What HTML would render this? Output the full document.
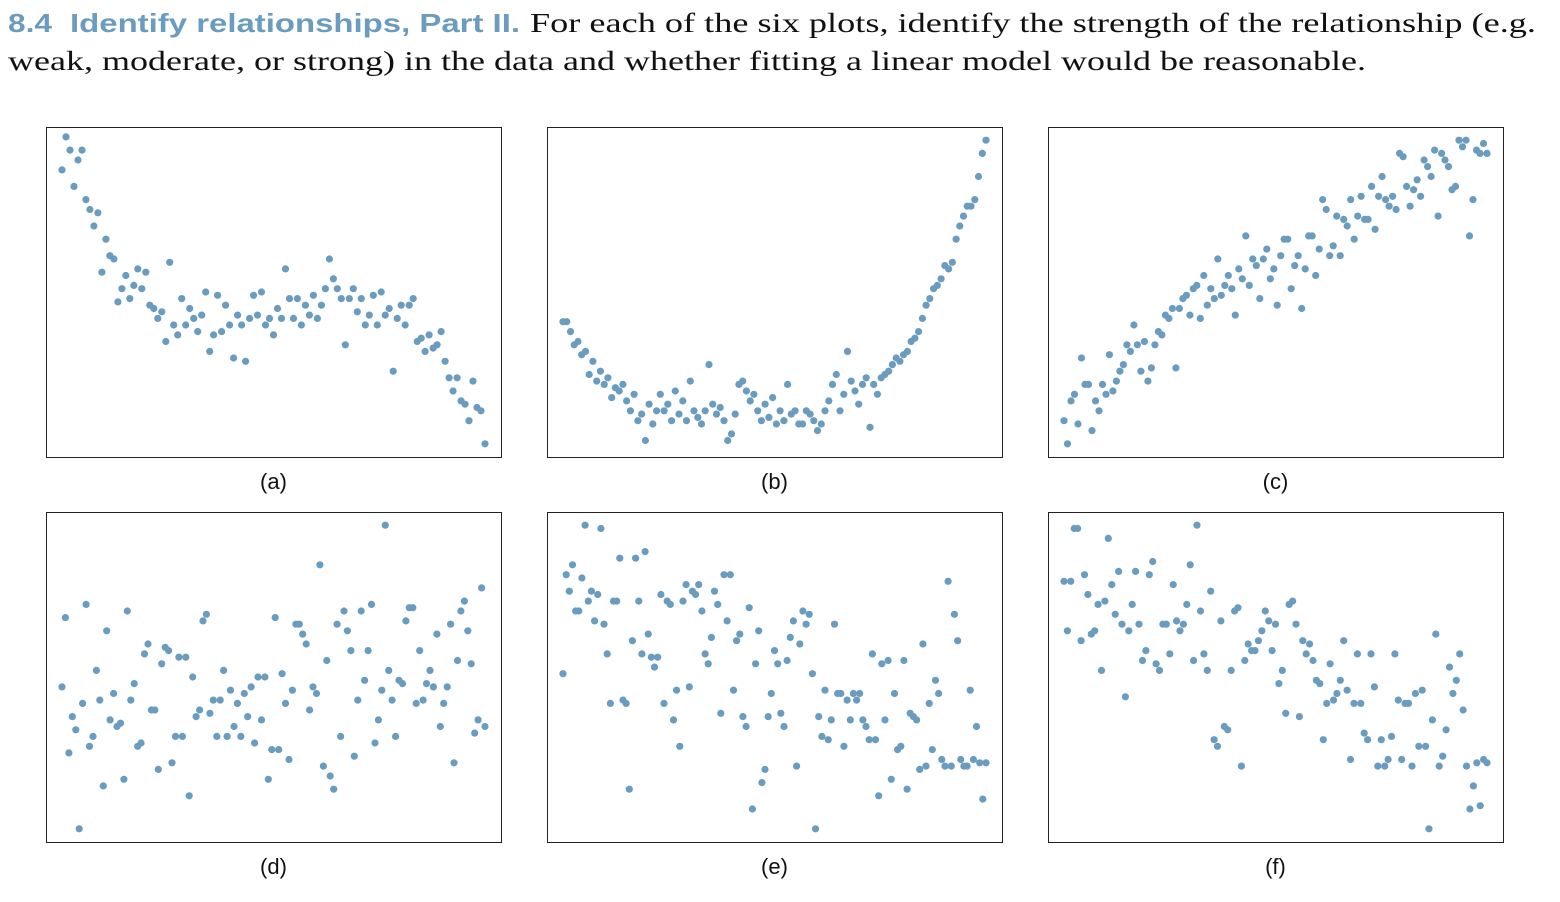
<!DOCTYPE html>
<html><head><meta charset="utf-8"><style>
body{margin:0;background:#fff;width:1560px;height:902px;overflow:hidden}
svg{display:block}
.hd{font-family:"Liberation Sans",sans-serif;font-weight:bold;fill:#6a9cc0;font-size:26px}
.tx{font-family:"Liberation Serif",serif;font-size:27px;fill:#111}
.lb{font-family:"Liberation Sans",sans-serif;font-size:22px;fill:#111}
</style></head><body>
<svg id="root" width="1560" height="902">
<text class="hd" x="8" y="32" textLength="44" lengthAdjust="spacingAndGlyphs">8.4</text>
<text class="hd" x="70" y="32" textLength="450" lengthAdjust="spacingAndGlyphs">Identify relationships, Part II.</text>
<text class="tx" x="530" y="32" textLength="1006" lengthAdjust="spacingAndGlyphs">For each of the six plots, identify the strength of the relationship (e.g.</text>
<text class="tx" x="8" y="70" textLength="1358" lengthAdjust="spacingAndGlyphs">weak, moderate, or strong) in the data and whether fitting a linear model would be reasonable.</text>
</svg>
<script>
const panelLabels=["(a)","(b)","(c)","(d)","(e)","(f)"];
const seriesA=[87,97,93,82,90,93,78,75,70,74,56,66,61,60,47,51,55,48,52,57,51,56,46,45,42,44,35,59,40,37,48,40,45,42,38,43,50,32,37,49,38,46,40,30,43,40,29,42,49,43,50,40,42,37,45,42,57,48,42,48,40,46,43,49,42,46,51,60,54,51,48,34,48,51,44,48,40,43,49,40,50,43,45,26,42,46,40,46,48,35,36,32,37,33,34,38,29,24,20,24,17,16,11,23,15,14,4];
const seriesB=[41,41,38,34,35,31,32,25,29,23,26,22,24,18,21,20,22,17,14,19,11,13,5,16,10,14,19,14,16,11,20,13,17,11,23,14,12,10,14,28,16,13,15,11,5,7,13,22,23,20,17,19,14,11,16,12,18,10,14,11,22,13,14,10,10,14,13,11,8,10,14,17,22,25,14,19,32,23,20,16,22,24,9,22,19,24,25,26,28,30,29,31,32,35,36,38,42,46,48,51,52,54,58,57,59,66,70,73,76,76,78,85,92,96];
const seriesC=[11,4,17,19,10,30,22,22,8,17,14,22,19,31,20,23,26,28,34,32,40,34,26,35,23,27,34,38,37,43,42,45,27,45,48,49,43,51,52,42,55,46,51,48,60,49,52,55,51,43,57,54,67,52,60,58,48,60,63,54,57,46,61,66,66,51,58,61,45,57,67,67,55,63,78,75,61,64,73,61,72,70,78,66,73,79,72,72,82,69,79,85,78,76,79,75,92,91,82,76,81,84,79,90,88,85,93,73,92,90,88,81,82,96,94,96,67,78,93,92,95,92];
const seriesD=[47,68,27,38,34,4,42,72,29,32,52,43,17,64,37,45,35,36,19,70,43,48,29,30,57,60,40,40,22,54,59,58,24,32,56,32,56,14,50,38,40,67,69,39,43,32,43,52,32,46,35,42,32,45,38,47,30,50,37,50,19,28,68,28,51,42,25,46,66,66,63,60,40,47,45,84,23,55,20,16,66,32,70,64,58,26,43,70,49,58,72,30,37,46,96,52,43,32,49,48,67,71,71,42,58,43,48,52,47,63,35,42,47,66,24,55,70,73,64,54,33,37,77,35];
const seriesE=[51,81,76,84,70,70,80,96,73,76,67,75,95,66,57,42,73,73,86,43,42,16,61,86,73,57,88,63,56,53,56,75,42,73,72,37,46,29,73,78,47,76,75,78,70,57,54,62,76,72,39,81,67,81,46,61,63,38,35,71,10,54,64,18,22,38,45,58,54,39,35,55,62,67,23,60,70,66,69,51,4,38,32,46,31,37,66,45,45,29,43,37,45,43,45,37,35,31,57,31,14,54,37,55,19,45,28,29,55,16,39,38,37,22,60,23,42,28,49,45,25,23,79,23,69,61,25,23,23,46,25,35,24,13,24];
const seriesF=[79,64,79,95,95,61,81,75,63,64,72,52,73,92,78,69,82,66,44,64,72,82,66,55,58,81,85,54,52,66,66,57,78,67,64,66,72,84,55,96,70,57,52,76,31,29,67,35,34,52,70,71,23,55,60,58,58,61,64,70,67,58,66,48,52,39,72,73,66,38,61,57,60,55,49,48,31,42,54,43,45,49,61,46,25,42,57,42,33,31,57,47,23,31,23,25,32,57,43,25,42,42,23,45,29,46,29,4,37,63,23,26,34,53,45,49,57,40,23,10,17,24,11,25,24];
const allSeries=[seriesA,seriesB,seriesC,seriesD,seriesE,seriesF];
const NS="http://www.w3.org/2000/svg";
const root=document.getElementById('root');
const panelW=455,panelH=330;
const lefts=[46,547,1048],tops=[127,512];
allSeries.forEach((vals,i)=>{
  const px=lefts[i%3],py=tops[Math.floor(i/3)];
  const g=document.createElementNS(NS,'g');
  
  
  const r=document.createElementNS(NS,'rect');
  r.setAttribute('x',px+0.5);r.setAttribute('y',py+0.5);r.setAttribute('width',panelW);r.setAttribute('height',panelH);
  r.setAttribute('fill','none');r.setAttribute('stroke','#222');r.setAttribute('stroke-width','1');
  
  
  g.appendChild(r);
  const n=vals.length;
  const xs=k=>px+16+k*(panelW-32)/(n-1);
  const ys=v=>py+panelH-v*3.3;
  vals.forEach((v,k)=>{
    const c=document.createElementNS(NS,'circle');
    c.setAttribute('cx',xs(k).toFixed(1));c.setAttribute('cy',ys(v).toFixed(1));c.setAttribute('r','3.6');c.setAttribute('fill','#6a9cc0');
    
    
    g.appendChild(c);
  });
  const t=document.createElementNS(NS,'text');
  t.setAttribute('x',px+panelW/2);t.setAttribute('y',py+panelH+32);t.setAttribute('text-anchor','middle');t.setAttribute('class','lb');
  t.textContent=panelLabels[i];
  
  
  g.appendChild(t);
  root.appendChild(g);
});
</script>
</body></html>
